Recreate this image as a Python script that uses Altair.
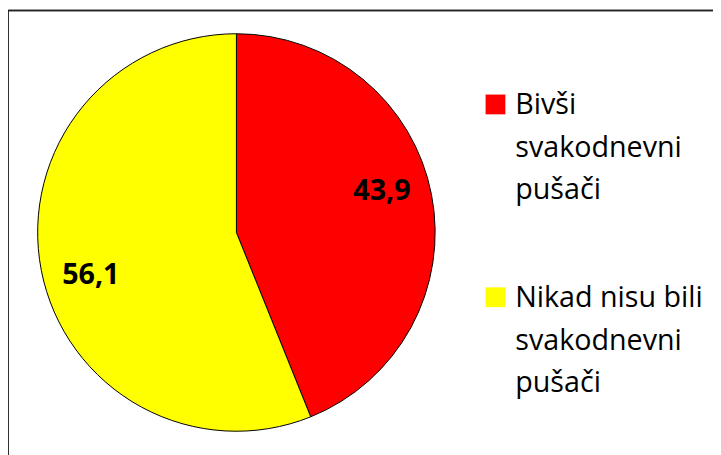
import altair as alt
import pandas as pd

categories = ["Bivši svakodnevni pušači", "Nikad nisu bili svakodnevni pušači"]
values = [43.9, 56.1]
value_labels = ["43,9", "56,1"]
legend_text = ["Bivši|svakodnevni|pušači", "Nikad nisu bili|svakodnevni|pušači"]
colors = ["#FF0000", "#FFFF00"]

df = pd.DataFrame({
    "cat": categories,
    "value": values,
    "label": value_labels,
    "leg": legend_text,
    "idx": list(range(len(categories))),
})

W, H = 713, 447
CX, CY, R = 231, 224.5, 201

color = alt.Color("cat:N", scale=alt.Scale(domain=categories, range=colors), legend=None)
theta = alt.Theta("value:Q", stack=True, scale=alt.Scale(domain=[0, 100]))
order = alt.Order("idx:Q")

base = alt.Chart(df)

pie = base.mark_arc(outerRadius=R, stroke="black", strokeWidth=1).encode(
    theta=theta, color=color, order=order,
    x=alt.value(CX), y=alt.value(CY),
)

lab_base = base.transform_window(
    cum="sum(value)", sort=[alt.SortField("idx")]
).transform_calculate(mid="datum.cum - datum.value / 2")


def label_layer(i, dy):
    return lab_base.transform_filter(f"datum.idx == {i}").mark_text(
        radius=150, dy=dy, font="Open Sans", fontSize=29, fontWeight="bold", color="black"
    ).encode(
        theta=alt.Theta("mid:Q", stack=None, scale=alt.Scale(domain=[0, 100])),
        text="label:N",
        x=alt.value(CX), y=alt.value(CY),
    )


pie_labels = [label_layer(0, -13), label_layer(1, 15)]

ly = alt.Y("cat:N", scale=alt.Scale(domain=categories, range=[95, 290], type="point", padding=0), axis=None)

leg_sq = base.mark_square(size=400, opacity=1).encode(
    x=alt.value(493), y=ly, color=color,
)

leg_txt = base.transform_calculate(lines="split(datum.leg, '|')").mark_text(
    align="left", baseline="alphabetic", dy=10, lineHeight=43,
    font="Open Sans", fontSize=29, color="black"
).encode(
    x=alt.value(513), y=ly, text="lines:N",
)

frame_left = base.mark_rule(color="#222222", strokeWidth=1.5).encode(
    x=alt.value(0), y=alt.value(0), y2=alt.value(H + 10)
)
frame_top = base.mark_rule(color="#222222", strokeWidth=1.5).encode(
    x=alt.value(0), x2=alt.value(W + 10), y=alt.value(0)
)

chart = alt.layer(frame_left, frame_top, pie, *pie_labels, leg_sq, leg_txt).properties(
    width=W, height=H, autosize="none", padding=0
).configure_view(stroke=None)

chart.save("out.html", embed_options={"renderer": "svg", "actions": False})
